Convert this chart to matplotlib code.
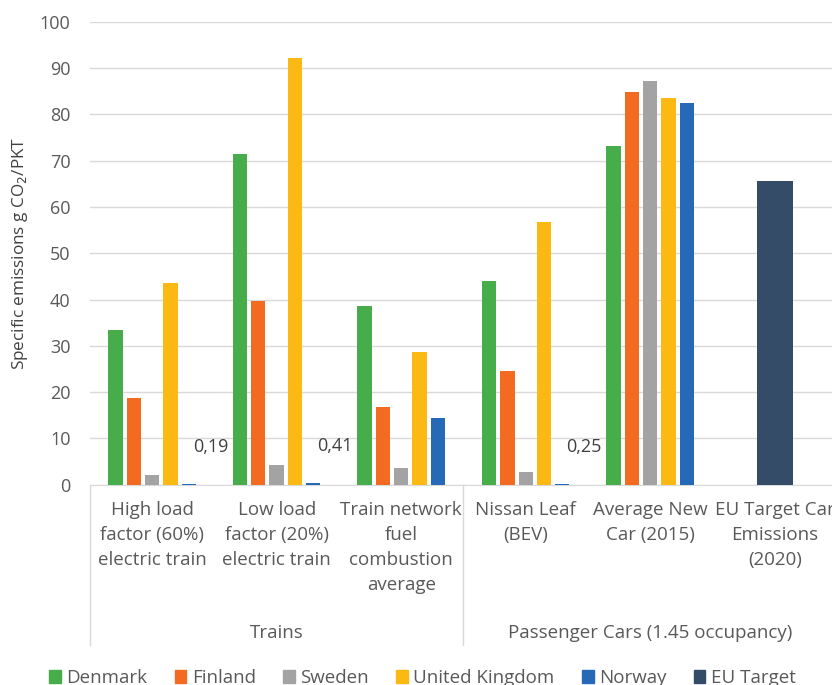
import numpy as np
import matplotlib.pyplot as plt
from matplotlib.patches import Patch

plt.rcParams['font.family'] = ['Open Sans', 'DejaVu Sans']

categories = ['High load\nfactor (60%)\nelectric train',
              'Low load\nfactor (20%)\nelectric train',
              'Train network\nfuel\ncombustion\naverage',
              'Nissan Leaf\n(BEV)',
              'Average New\nCar (2015)',
              'EU Target Car\nEmissions\n(2020)']
groups = ['Trains', 'Passenger Cars (1.45 occupancy)']

countries = ['Denmark', 'Finland', 'Sweden', 'United Kingdom', 'Norway']
denmark = [33.5, 71.4, 38.7, 44.0, 73.2, 0]
finland = [18.7, 39.7, 16.7, 24.5, 84.9, 0]
sweden = [2.2, 4.2, 3.6, 2.7, 87.2, 0]
united_kingdom = [43.5, 92.1, 28.7, 56.8, 83.6, 0]
norway = [0.19, 0.41, 14.5, 0.25, 82.4, 0]
eu_target = [0, 0, 0, 0, 0, 65.6]

series = [denmark, finland, sweden, united_kingdom, norway]
colors = ['#47AD4A', '#F26B21', '#A3A3A3', '#FDB913', '#2569B7']
eu_color = '#344C68'

fig = plt.figure(figsize=(8.32, 6.85), dpi=100)
ax = fig.add_axes([0.108, 0.2924, 0.898, 0.6759])

x = np.arange(len(categories))
step = 0.147
width = 0.115
for k, (vals, col) in enumerate(zip(series, colors)):
    ax.bar(x + (k - 2) * step, vals, width, color=col, zorder=3)
ax.bar(x[5], eu_target[5], 0.29, color=eu_color, zorder=3)

# small Norway values get their own labels
for i in [0, 1, 3]:
    ax.annotate(f'{norway[i]:.2f}'.replace('.', ','), xy=(x[i] + 2 * step, norway[i]),
                xytext=(22, 37), textcoords='offset pixels', ha='center', va='center',
                fontsize=13, color='#404040')

ax.set_xlim(-0.5, 5.5)
ax.set_ylim(0, 100)
ax.set_yticks(range(0, 101, 10))
ax.tick_params(axis='y', length=0, pad=14, labelsize=13, labelcolor='#595959')
ax.set_xticks([])
ax.grid(axis='y', color='#D9D9D9', linewidth=1, zorder=0)
for s in ['left', 'right', 'top']:
    ax.spines[s].set_visible(False)
ax.spines['bottom'].set_color('#D9D9D9')
ax.set_ylabel('Specific emissions g CO$_2$/PKT', fontsize=12.3, color='#404040', labelpad=7)

# two-level category axis
trans = ax.get_xaxis_transform()
for i, lab in enumerate(categories):
    ax.annotate(lab, xy=(x[i], 0), xycoords=trans, xytext=(0, -16),
                textcoords='offset pixels', ha='center', va='top',
                fontsize=13.5, color='#595959', linespacing=1.5)
for xc, g in zip([1, 4], groups):
    ax.annotate(g, xy=(xc, 0), xycoords=trans, xytext=(0, -148),
                textcoords='offset pixels', ha='center', va='center',
                fontsize=13.5, color='#595959')
for xs in [-0.5, 2.5, 5.5]:
    ax.plot([xs, xs], [0, -0.3456], transform=trans, color='#D9D9D9',
            linewidth=1, clip_on=False)

handles = [Patch(color=c, label=n) for c, n in zip(colors, countries)]
handles.append(Patch(color=eu_color, label='EU Target'))
fig.legend(handles=handles, loc='center', bbox_to_anchor=(0.508, 0.01), ncol=6,
           frameon=False, fontsize=13.5, handlelength=0.62, handleheight=0.62,
           handletextpad=0.3, columnspacing=1.45, labelcolor='#595959')

fig.savefig('out.png', dpi=100)
